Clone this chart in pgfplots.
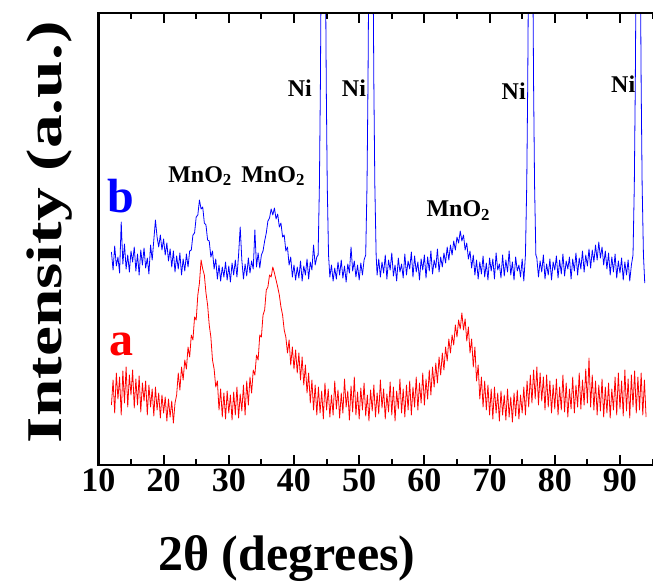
\documentclass[border=0pt]{standalone}
\usepackage{fontspec}
\setmainfont{Liberation Serif}
\usepackage{pgfplots}
\pgfplotsset{compat=1.18}
\begin{document}
\begin{tikzpicture}
% page frame: the reference is cropped just right of x = 95
\path[use as bounding box] (-98.4pt,-116pt) rectangle ++(653pt,581pt);
\begin{axis}[
  at={(0pt,0pt)}, anchor=south west,
  scale only axis, width=560.7pt, height=452pt,
  xmin=10, xmax=96, ymin=0, ymax=452,
  axis on top,
  xtick={10,20,...,90}, minor xtick={15,25,...,95}, ytick=\empty,
  tick align=inside,
  major tick length=10pt, minor tick length=6pt,
  every tick/.style={black, line width=2pt},
  axis line style={line width=2.5pt},
  tick label style={font=\fontsize{34}{34}\selectfont\bfseries},
  /pgf/number format/assume math mode=true,
  xlabel={2θ (degrees)},
  xlabel style={at={(axis description cs:0.336,-0.2345)}, anchor=base, font=\fontsize{50}{50}\selectfont\bfseries},
  ylabel={\scalebox{1.35}[1]{Intensity (a.u.)}},
  ylabel style={at={(axis description cs:-0.066,0.515)}, anchor=base, font=\fontsize{50}{50}\selectfont\bfseries},
]
% b: MnO2 on Ni foam
\addplot[blue, line width=0.8pt, line join=round] coordinates {
(12.00,213)(12.25,195)(12.50,219)(12.75,199)(13.00,208)(13.25,192)(13.50,243)(13.75,201)(14.00,221)(14.25,196)(14.50,210)(14.75,193)(15.00,214)(15.25,203)(15.50,218)(15.75,194)(16.00,211)(16.25,190)(16.50,215)(16.75,200)(17.00,217)(17.25,197)(17.50,207)(17.75,191)(18.00,220)(18.25,205)(18.50,225)(18.75,245)(19.00,228)(19.25,218)(19.50,230)(19.75,215)(20.00,226)(20.25,210)(20.50,222)(20.75,204)(21.00,216)(21.25,198)(21.50,214)(21.75,193)(22.00,209)(22.25,196)(22.50,212)(22.75,190)(23.00,206)(23.25,194)(23.50,211)(23.75,198)(24.00,214)(24.25,215)(24.50,230)(24.75,232)(25.00,248)(25.25,250)(25.50,265)(25.75,256)(26.00,258)(26.25,242)(26.50,240)(26.75,225)(27.00,224)(27.25,208)(27.50,214)(27.75,196)(28.00,206)(28.25,186)(28.50,200)(28.75,184)(29.00,198)(29.25,188)(29.50,203)(29.75,185)(30.00,199)(30.25,183)(30.50,202)(30.75,190)(31.00,205)(31.25,188)(31.50,210)(31.75,238)(32.00,205)(32.25,186)(32.50,201)(32.75,189)(33.00,207)(33.25,192)(33.50,204)(33.75,196)(34.00,235)(34.25,198)(34.50,212)(34.75,197)(35.00,210)(35.25,214)(35.50,224)(35.75,232)(36.00,244)(36.25,247)(36.50,256)(36.75,250)(37.00,257)(37.25,246)(37.50,251)(37.75,238)(38.00,242)(38.25,228)(38.50,230)(38.75,214)(39.00,218)(39.25,200)(39.50,208)(39.75,188)(40.00,200)(40.25,185)(40.50,198)(40.75,187)(41.00,204)(41.25,184)(41.50,199)(41.75,190)(42.00,206)(42.25,186)(42.50,203)(42.75,195)(43.00,220)(43.25,200)(43.50,208)
(43.70,210)(43.90,280)(44.05,380)(44.15,480)(44.30,800)(44.50,1500)(44.70,800)(44.85,480)(44.95,380)(45.10,280)(45.30,210)
(45.50,188)(45.75,200)(46.00,184)(46.25,197)(46.50,186)(46.75,203)(47.00,190)(47.25,205)(47.50,187)(47.75,199)(48.00,183)(48.25,201)(48.50,192)(48.75,218)(49.00,194)(49.25,204)(49.50,188)(49.75,200)(50.00,185)(50.25,202)(50.50,190)(50.75,205)
(51.00,210)(51.20,280)(51.35,380)(51.45,480)(51.60,800)(51.80,1500)(52.00,800)(52.15,480)(52.25,380)(52.40,280)(52.60,210)
(52.75,190)(53.00,206)(53.25,188)(53.50,203)(53.75,192)(54.00,210)(54.25,186)(54.50,205)(54.75,195)(55.00,212)(55.25,189)(55.50,200)(55.75,184)(56.00,207)(56.25,193)(56.50,201)(56.75,187)(57.00,211)(57.25,190)(57.50,204)(57.75,196)(58.00,213)(58.25,188)(58.50,209)(58.75,193)(59.00,203)(59.25,185)(59.50,206)(59.75,195)(60.00,210)(60.25,187)(60.50,208)(60.75,194)(61.00,214)(61.25,191)(61.50,205)(61.75,197)(62.00,216)(62.25,193)(62.50,208)(62.75,198)(63.00,212)(63.25,202)(63.50,218)(63.75,205)(64.00,220)(64.25,210)(64.50,224)(64.75,215)(65.00,228)(65.25,222)(65.50,234)(65.75,224)(66.00,230)(66.25,215)(66.50,222)(66.75,206)(67.00,214)(67.25,197)(67.50,210)(67.75,190)(68.00,205)(68.25,186)(68.50,203)(68.75,191)(69.00,209)(69.25,188)(69.50,202)(69.75,185)(70.00,207)(70.25,194)(70.50,206)(70.75,186)(71.00,212)(71.25,195)(71.50,201)(71.75,187)(72.00,210)(72.25,189)(72.50,205)(72.75,193)(73.00,214)(73.25,190)(73.50,203)(73.75,185)(74.00,208)(74.25,194)(74.50,200)(74.75,188)(75.00,206)(75.25,184)
(75.50,210)(75.70,280)(75.85,380)(75.95,480)(76.10,800)(76.30,1500)(76.50,800)(76.65,480)(76.75,380)(76.90,280)(77.10,210)
(77.25,207)(77.50,188)(77.75,204)(78.00,193)(78.25,210)(78.50,186)(78.75,201)(79.00,190)(79.25,206)(79.50,185)(79.75,203)(80.00,195)(80.25,209)(80.50,187)(80.75,205)(81.00,191)(81.25,211)(81.50,189)(81.75,204)(82.00,196)(82.25,208)(82.50,186)(82.75,206)(83.00,194)(83.25,212)(83.50,190)(83.75,207)(84.00,196)(84.25,214)(84.50,193)(84.75,210)(85.00,199)(85.25,216)(85.50,197)(85.75,215)(86.00,203)(86.25,220)(86.50,205)(86.75,223)(87.00,207)(87.25,218)(87.50,200)(87.75,214)(88.00,196)(88.25,212)(88.50,190)(88.75,208)(89.00,193)(89.25,211)(89.50,187)(89.75,204)(90.00,192)(90.25,207)(90.50,185)(90.75,203)(91.00,190)(91.25,205)(91.50,184)(91.75,200)
(92.00,210)(92.20,280)(92.35,380)(92.45,480)(92.60,800)(92.80,1500)(93.00,800)(93.15,480)(93.25,380)(93.40,280)(93.60,210)(93.80,182)
};
% a: MnO2
\addplot[red, line width=0.8pt, line join=round] coordinates {
(12.00,60)(12.25,85)(12.50,52)(12.75,92)(13.00,66)(13.25,88)(13.50,50)(13.75,94)(14.00,62)(14.25,98)(14.50,58)(14.75,90)(15.00,70)(15.25,95)(15.50,57)(15.75,86)(16.00,60)(16.25,89)(16.50,53)(16.75,82)(17.00,64)(17.25,84)(17.50,50)(17.75,80)(18.00,58)(18.25,76)(18.50,49)(18.75,78)(19.00,55)(19.25,72)(19.50,47)(19.75,70)(20.00,52)(20.25,68)(20.50,44)(20.75,66)(21.00,48)(21.25,64)(21.50,42)(21.75,62)(22.00,70)(22.25,92)(22.50,75)(22.75,98)(23.00,85)(23.25,105)(23.50,96)(23.75,118)(24.00,108)(24.25,130)(24.50,125)(24.75,148)(25.00,145)(25.25,170)(25.50,182)(25.75,205)(26.00,196)(26.25,190)(26.50,172)(26.75,160)(27.00,140)(27.25,128)(27.50,105)(27.75,96)(28.00,78)(28.25,84)(28.50,55)(28.75,76)(29.00,48)(29.25,72)(29.50,46)(29.75,74)(30.00,52)(30.25,70)(30.50,45)(30.75,73)(31.00,50)(31.25,78)(31.50,47)(31.75,71)(32.00,54)(32.25,80)(32.50,50)(32.75,84)(33.00,60)(33.25,88)(33.50,72)(33.75,95)(34.00,90)(34.25,110)(34.50,105)(34.75,130)(35.00,128)(35.25,150)(35.50,155)(35.75,175)(36.00,178)(36.25,190)(36.50,188)(36.75,198)(37.00,192)(37.25,185)(37.50,178)(37.75,170)(38.00,158)(38.25,150)(38.50,135)(38.75,128)(39.00,112)(39.25,125)(39.50,100)(39.75,118)(40.00,96)(40.25,115)(40.50,92)(40.75,112)(41.00,85)(41.25,108)(41.50,80)(41.75,100)(42.00,72)(42.25,92)(42.50,62)(42.75,85)(43.00,55)(43.25,80)(43.50,50)(43.75,78)(44.00,52)(44.25,74)(44.50,46)(44.75,82)(45.00,55)(45.25,76)(45.50,48)(45.75,70)(46.00,50)(46.25,84)(46.50,56)(46.75,75)(47.00,47)(47.25,72)(47.50,52)(47.75,86)(48.00,58)(48.25,74)(48.50,45)(48.75,79)(49.00,53)(49.25,88)(49.50,50)(49.75,73)(50.00,46)(50.25,77)(50.50,55)(50.75,82)(51.00,49)(51.25,70)(51.50,44)(51.75,75)(52.00,54)(52.25,80)(52.50,48)(52.75,72)(53.00,51)(53.25,85)(53.50,57)(53.75,76)(54.00,46)(54.25,71)(54.50,53)(54.75,83)(55.00,50)(55.25,78)(55.50,44)(55.75,74)(56.00,56)(56.25,86)(56.50,52)(56.75,76)(57.00,48)(57.25,80)(57.50,55)(57.75,84)(58.00,50)(58.25,78)(58.50,58)(58.75,88)(59.00,55)(59.25,82)(59.50,62)(59.75,92)(60.00,60)(60.25,86)(60.50,66)(60.75,95)(61.00,70)(61.25,98)(61.50,78)(61.75,102)(62.00,82)(62.25,108)(62.50,90)(62.75,112)(63.00,95)(63.25,118)(63.50,104)(63.75,126)(64.00,112)(64.25,130)(64.50,120)(64.75,140)(65.00,128)(65.25,145)(65.50,136)(65.75,152)(66.00,135)(66.25,146)(66.50,124)(66.75,138)(67.00,112)(67.25,126)(67.50,98)(67.75,118)(68.00,84)(68.25,100)(68.50,66)(68.75,88)(69.00,58)(69.25,84)(69.50,55)(69.75,80)(70.00,50)(70.25,76)(70.50,46)(70.75,78)(71.00,52)(71.25,72)(71.50,44)(71.75,74)(72.00,50)(72.25,70)(72.50,45)(72.75,76)(73.00,48)(73.25,68)(73.50,43)(73.75,72)(74.00,49)(74.25,75)(74.50,46)(74.75,70)(75.00,52)(75.25,78)(75.50,50)(75.75,84)(76.00,58)(76.25,90)(76.50,62)(76.75,95)(77.00,66)(77.25,98)(77.50,60)(77.75,92)(78.00,64)(78.25,88)(78.50,55)(78.75,90)(79.00,58)(79.25,84)(79.50,52)(79.75,80)(80.00,56)(80.25,86)(80.50,50)(80.75,78)(81.00,55)(81.25,90)(81.50,53)(81.75,82)(82.00,48)(82.25,76)(82.50,56)(82.75,88)(83.00,52)(83.25,80)(83.50,58)(83.75,92)(84.00,56)(84.25,85)(84.50,60)(84.75,96)(85.00,62)(85.25,107)(85.50,58)(85.75,90)(86.00,55)(86.25,84)(86.50,50)(86.75,80)(87.00,54)(87.25,86)(87.50,48)(87.75,78)(88.00,52)(88.25,82)(88.50,47)(88.75,76)(89.00,55)(89.25,88)(89.50,50)(89.75,92)(90.00,56)(90.25,84)(90.50,49)(90.75,95)(91.00,54)(91.25,86)(91.50,47)(91.75,90)(92.00,58)(92.25,94)(92.50,52)(92.75,88)(93.00,55)(93.25,92)(93.50,50)(93.75,85)(94.00,48)
};
% peak labels
\node[font=\fontsize{24}{24}\selectfont\bfseries, anchor=base] at (axis cs:40.9,368) {Ni};
\node[font=\fontsize{24}{24}\selectfont\bfseries, anchor=base] at (axis cs:49.2,368) {Ni};
\node[font=\fontsize{24}{24}\selectfont\bfseries, anchor=base] at (axis cs:73.7,365) {Ni};
\node[font=\fontsize{24}{24}\selectfont\bfseries, anchor=base] at (axis cs:90.5,372) {Ni};
\node[font=\fontsize{24}{24}\selectfont\bfseries, anchor=base] at (axis cs:25.6,283) {MnO\textsubscript{2}};
\node[font=\fontsize{24}{24}\selectfont\bfseries, anchor=base] at (axis cs:36.8,283) {MnO\textsubscript{2}};
\node[font=\fontsize{24}{24}\selectfont\bfseries, anchor=base] at (axis cs:65.2,248) {MnO\textsubscript{2}};
\node[font=\fontsize{48}{48}\selectfont\bfseries, text=blue, anchor=base] at (axis cs:13.5,252) {b};
\node[font=\fontsize{48}{48}\selectfont\bfseries, text=red, anchor=base] at (axis cs:13.5,110) {a};
\end{axis}
\end{tikzpicture}
\end{document}
